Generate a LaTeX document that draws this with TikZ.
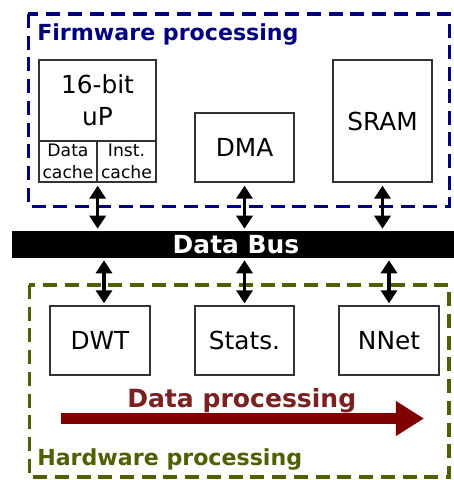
\documentclass[tikz,border=0pt]{standalone}
\usepackage{fontspec}
\setmainfont{DejaVu Sans}
\usetikzlibrary{arrows.meta}
\definecolor{fwblue}{RGB}{0,0,128}
\definecolor{hwolive}{RGB}{80,96,0}
\definecolor{flowred}{RGB}{128,0,0}
\definecolor{flowtext}{RGB}{122,32,32}
\tikzset{
  unit/.style={draw=black!80, line width=1pt, inner sep=0pt, align=center,
    font=\fontsize{18.6pt}{24pt}\selectfont},
  cachecell/.style={draw=black!80, line width=1pt, inner sep=0pt, align=center,
    font=\fontsize{12.9pt}{16pt}\selectfont},
  frame/.style={line width=2.4pt, dash pattern=on 10.5pt off 5.8pt},
  frametitle/.style={font=\fontsize{16.6pt}{19pt}\selectfont\bfseries, anchor=base west, inner sep=0pt},
  busarrow/.style={line width=2.6pt, {Triangle[length=9.75pt,width=12pt]}-{Triangle[length=9.75pt,width=12pt]}},
}
\begin{document}
\begin{tikzpicture}[x=0.75pt,y=-0.75pt]
\useasboundingbox (0,0) rectangle (454,480);

% firmware and hardware regions
\draw[frame, fwblue] (28.5,14) rectangle (449.5,206.5);
\node[frametitle, text=fwblue] (fwtitle) at (37,40) {Firmware processing};
\draw[frame, hwolive] (29.5,285) rectangle (449,477);
\node[frametitle, text=hwolive] (hwtitle) at (37,465) {Hardware processing};

% firmware units
\node[unit, minimum width=117*0.75pt, minimum height=81*0.75pt] (up) at (97.5,100.5) {16-bit\\uP};
\node[cachecell, minimum width=58*0.75pt, minimum height=41*0.75pt] (dcache) at (68,161.5) {Data\\cache};
\node[cachecell, minimum width=59*0.75pt, minimum height=41*0.75pt] (icache) at (126.5,161.5) {Inst.\\cache};
\node[unit, minimum width=99*0.75pt, minimum height=69*0.75pt] (dma) at (244.5,147.5) {DMA};
\node[unit, minimum width=99*0.75pt, minimum height=122*0.75pt] (sram) at (382.5,121) {SRAM};

% shared bus
\node[fill=black, minimum width=442*0.75pt, minimum height=27*0.75pt, inner sep=0pt] (bus) at (233,244.5) {};
\node[text=white, font=\fontsize{18.7pt}{22pt}\selectfont\bfseries, anchor=base, inner sep=0pt] (buslabel) at (236,253) {Data Bus};

% hardware units
\node[unit, minimum width=100*0.75pt, minimum height=69*0.75pt] (dwt) at (100,340.5) {DWT};
\node[unit, minimum width=99*0.75pt, minimum height=69*0.75pt] (stats) at (244.5,340.5) {Stats.};
\node[unit, minimum width=100*0.75pt, minimum height=69*0.75pt] (nnet) at (389,340.5) {NNet};

% bus connections
\draw[busarrow, shorten <=2.25pt, shorten >=1.5pt] (dcache.south east) -- (dcache.south east |- bus.north);
\draw[busarrow, shorten <=2.25pt, shorten >=1.5pt] (dma.south) -- (dma.south |- bus.north);
\draw[busarrow, shorten <=2.25pt, shorten >=1.5pt] (sram.south) -- (sram.south |- bus.north);
\draw[busarrow, shorten <=1.5pt, shorten >=1.5pt] ([xshift=3pt]dwt.north |- bus.south) -- ([xshift=3pt]dwt.north);
\draw[busarrow, shorten <=1.5pt, shorten >=1.5pt] (stats.north |- bus.south) -- (stats.north);
\draw[busarrow, shorten <=1.5pt, shorten >=1.5pt] (nnet.north |- bus.south) -- (nnet.north);

% data flow through the hardware units
\node[text=flowtext, font=\fontsize{18.8pt}{22pt}\selectfont\bfseries, anchor=base west, inner sep=0pt] (flowlabel) at (127,407) {Data processing};
\coordinate (flowstart) at (61,418.5);
\coordinate (flowend) at (424,418.5);
\draw[flowred, line width=8.25pt, -{Triangle[length=21pt,width=24.75pt]}] (flowstart) -- (flowend);
\end{tikzpicture}
\end{document}
